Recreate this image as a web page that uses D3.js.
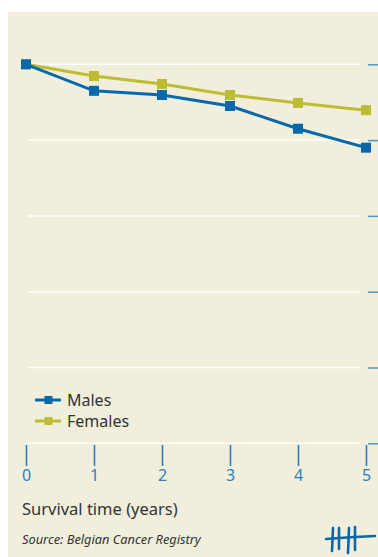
<!DOCTYPE html>
<html><head><meta charset="utf-8">
<script src="https://cdn.jsdelivr.net/npm/d3@7"></script>
<style>html,body{margin:0;padding:0;background:#fff;}svg{display:block;}</style>
</head><body>
<script>
const years = [0, 1, 2, 3, 4, 5];
const males = [100, 93.0, 91.9, 89.0, 83.0, 78.0];
const females = [100, 96.9, 94.8, 91.9, 89.8, 87.9];
const yTicks = [0, 20, 40, 60, 80, 100];
const seriesNames = ["Males", "Females"];
const xTitle = "Survival time (years)";
const sourceText = "Source: Belgian Cancer Registry";

const W = 378, H = 557;
const blue = "#0768ab", green = "#bcbd32", tickBlue = "#2b7fbd", bg = "#f1efdc";
const svg = d3.select("body").append("svg").attr("width", W).attr("height", H);
svg.append("rect").attr("x", 8).attr("y", 12).attr("width", W - 8).attr("height", H - 12).attr("fill", bg);

const x = d3.scaleLinear().domain([0, 5]).range([26, 366]);
const y = d3.scaleLinear().domain([0, 100]).range([443.3, 64.3]);

// gridlines
svg.append("g").selectAll("line").data(yTicks).join("line")
  .attr("x1", 28).attr("x2", 360)
  .attr("y1", d => y(d)).attr("y2", d => y(d))
  .attr("stroke", "#fff").attr("stroke-width", 1.5);

// right axis ticks (labels fall outside the picture in the reference)
const yAxis = d3.axisRight(y).tickValues(yTicks).tickSize(12).tickFormat("");
const ya = svg.append("g").attr("transform", "translate(368,0)").call(yAxis);
ya.select(".domain").remove();
ya.selectAll(".tick text").remove();
ya.selectAll(".tick line").attr("stroke", "#4f98c6").attr("stroke-width", 1.5);

// x axis
const xAxis = d3.axisBottom(x).tickValues(years).tickSize(0).tickFormat(d3.format("d"));
const xa = svg.append("g").attr("transform", "translate(0,445)").call(xAxis);
xa.select(".domain").remove();
xa.selectAll(".tick line").remove();
xa.selectAll(".tick").append("line").attr("y1", 0).attr("y2", 21)
  .attr("stroke", tickBlue).attr("stroke-width", 1.6);
xa.selectAll(".tick text").attr("y", 36).attr("dy", 0)
  .attr("fill", tickBlue).attr("font-size", 16).attr("font-family", "Noto Sans, sans-serif");

// lines
const series = [{name: seriesNames[0], vals: males, color: blue}, {name: seriesNames[1], vals: females, color: green}];
const line = d3.line().x((d, i) => x(years[i])).y(d => y(d));
const order = [series[1], series[0]];
order.forEach(s => {
  svg.append("path").datum(s.vals).attr("d", line)
    .attr("fill", "none").attr("stroke", s.color).attr("stroke-width", 3);
  svg.append("g").selectAll("rect").data(s.vals).join("rect")
    .attr("x", (d, i) => x(years[i]) - 5).attr("y", d => y(d) - 5)
    .attr("width", 10).attr("height", 10).attr("fill", s.color);
});

// legend
const leg = svg.append("g");
series.forEach((s, i) => {
  const ly = 400 + i * 21;
  leg.append("line").attr("x1", 35).attr("x2", 61).attr("y1", ly).attr("y2", ly)
    .attr("stroke", s.color).attr("stroke-width", 3);
  leg.append("rect").attr("x", 44.5).attr("y", ly - 4).attr("width", 8).attr("height", 8).attr("fill", s.color);
  leg.append("text").attr("x", 67).attr("y", ly + 6).text(s.name)
    .attr("font-family", "Noto Sans, sans-serif").attr("font-size", 16).attr("fill", "#333");
});

// titles
svg.append("text").attr("x", 22).attr("y", 515).text(xTitle)
  .attr("font-family", "Noto Sans, sans-serif").attr("font-size", 16.5).attr("fill", "#333");
svg.append("text").attr("x", 22).attr("y", 544).text(sourceText)
  .attr("font-family", "Noto Sans, sans-serif").attr("font-size", 12.8).attr("font-style", "italic").attr("fill", "#333");

// tally logo
const logo = svg.append("g").attr("stroke", blue).attr("stroke-width", 2.6).attr("stroke-linecap", "round").attr("fill", "none");
[[333, 528, 332, 551], [339, 528, 339, 549], [349, 528, 348, 553], [355, 527, 355, 550]].forEach(p =>
  logo.append("line").attr("x1", p[0]).attr("y1", p[1]).attr("x2", p[2]).attr("y2", p[3]));
logo.append("path").attr("d", "M326,539 Q350,537 375,536");
</script>
</body></html>
